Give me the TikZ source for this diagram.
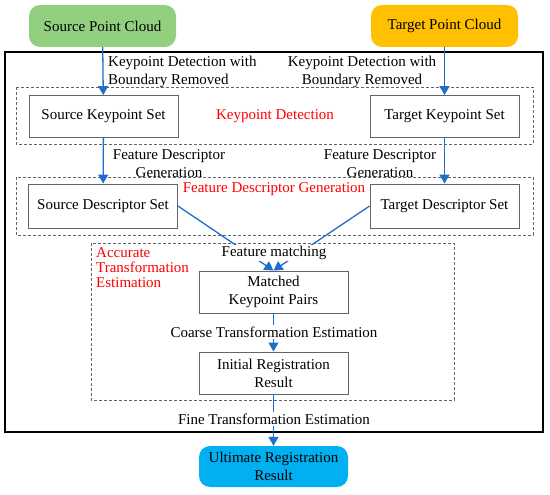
\documentclass[tikz,border=0pt]{standalone}
\usepackage{fontspec}
\setmainfont{Liberation Serif}
\usetikzlibrary{arrows.meta}
\definecolor{srcgreen}{RGB}{146,208,128}
\definecolor{tgtorange}{RGB}{255,192,0}
\definecolor{ultblue}{RGB}{0,176,240}
\definecolor{arrblue}{RGB}{31,110,200}
\definecolor{boxgray}{RGB}{100,100,100}
\begin{document}
\begin{tikzpicture}[
x=1pt, y=-1pt,
font=\fontsize{15}{18}\selectfont
]

\tikzstyle{b} = [draw=boxgray, line width=0.9pt, shape=rectangle, minimum width=149pt, minimum height=42pt, inner sep=0pt, align=center]
\tikzstyle{rb} = [shape=rectangle, rounded corners=11pt, minimum width=147pt, minimum height=42pt, inner sep=0pt, align=center]
\tikzstyle{grp} = [draw=boxgray, line width=0.7pt, dash pattern=on 3pt off 2pt]
\tikzstyle{red} = [text=red, inner sep=0pt]
\tikzstyle{lbl} = [inner sep=0pt]
\tikzstyle{wlbl} = [fill=white, inner sep=1.5pt]
\tikzstyle{arr} = [draw=arrblue, line width=1.3pt, -{Triangle[length=9pt,width=10pt]}]

\useasboundingbox (0,0) rectangle (550,495);

% frames
\draw[line width=1.6pt] (5,52) rectangle (543,432);
\draw[grp] (16,87) rectangle (533,144);
\draw[grp] (16,177) rectangle (533,235);
\draw[grp] (91,243) rectangle (454,400);

% nodes
\node[rb, fill=srcgreen] (srccloud) at (102.5,26) {Source Point Cloud};
\node[rb, fill=tgtorange] (tgtcloud) at (444.5,26) {Target Point Cloud};
\node[b] (srckp) at (103.5,116.5) {Source Keypoint Set};
\node[b] (tgtkp) at (444.5,116.5) {Target Keypoint Set};
\node[b, minimum height=44pt] (srcdesc) at (103,206) {Source Descriptor Set};
\node[b, minimum height=44pt] (tgtdesc) at (444.5,206) {Target Descriptor Set};
\node[b] (matched) at (273.5,292) {Matched\\Keypoint Pairs};
\node[b] (initial) at (273.5,373) {Initial Registration\\Result};
\node[rb, fill=ultblue, minimum width=149pt, minimum height=41pt] (ultimate) at (273.5,466.5) {Ultimate Registration\\Result};

% connectors
\draw[arr] (srccloud) -- (srckp);
\draw[arr] (tgtcloud) -- (tgtkp);
\draw[arr] (srckp) -- (srcdesc);
\draw[arr] (tgtkp) -- (tgtdesc);
\draw[arr] (srcdesc.east) -- (matched.north);
\draw[arr] (tgtdesc.west) -- (matched.north);
\draw[arr] (matched) -- (initial);
\draw[arr] (initial) -- (ultimate);

% labels
\node[lbl, anchor=west, align=left] (kdl) at (108,72) {Keypoint Detection with\\Boundary Removed};
\node[lbl, align=center] (kdr) at (362,72) {Keypoint Detection with\\Boundary Removed};
\node[lbl, align=center] (fdl) at (169,164) {Feature Descriptor\\Generation};
\node[lbl, align=center] (fdr) at (380,164) {Feature Descriptor\\Generation};
\node[red] (kdgrp) at (275,116) {Keypoint Detection};
\node[red] (fdgrp) at (274,189) {Feature Descriptor Generation};
\node[red, anchor=west, align=left, font=\fontsize{15}{15}\selectfont] (ategrp) at (96,268) {Accurate\\Transformation\\Estimation};
\node[wlbl] (fm) at (274,253) {Feature matching};
\node[wlbl] (cte) at (274,332) {Coarse Transformation Estimation};
\node[wlbl] (fte) at (274,419) {Fine Transformation Estimation};

\end{tikzpicture}
\end{document}
